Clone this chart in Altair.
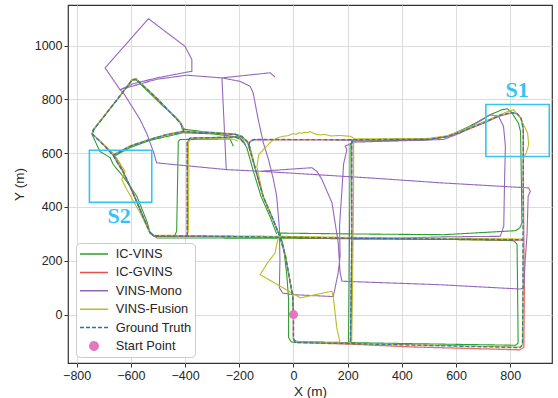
import altair as alt
import pandas as pd

# ---------------- categories / styles ----------------
SERIES = ["IC-VINS", "IC-GVINS", "VINS-Mono", "VINS-Fusion", "Ground Truth", "Start Point"]
COLORS = ["#2ca02c", "#e8504a", "#9467bd", "#bcbd22", "#1f77b4", "#e377c2"]
DASHES = [[1, 0], [1, 0], [1, 0], [1, 0], [4, 2], [1, 0]]
LINE_SYM = "M-2,0L2,0"
DOT_SYM = "M0.6,0A0.6,0.6,0,1,1,-0.6,0A0.6,0.6,0,1,1,0.6,0Z"
SHAPES = [LINE_SYM, LINE_SYM, LINE_SYM, LINE_SYM, LINE_SYM, DOT_SYM]

X_TICKS = [-800, -600, -400, -200, 0, 200, 400, 600, 800]
Y_TICKS = [0, 200, 400, 600, 800, 1000]

# ---------------- Ground truth (m) ----------------
GT_MAIN = [(0, 0), (0, -90), (5, -100), (15, -104), (215, -108), (430, -113), (835, -123), (845, -113),
           (847, 100), (847, 280), (848, 500), (848, 690), (840, 730), (825, 748), (805, 752), (760, 740),
           (700, 712), (620, 680), (567, 662), (500, 652), (228, 650), (-145, 651), (-160, 645), (-166, 630),
           (-140, 540), (-112, 440), (-75, 353), (-50, 290), (-30, 220), (-12, 120), (-3, 70), (0, 0)]
GT_X215 = [(217, 650), (215, 640), (215, 470), (215, 290), (213, 100), (210, -98), (205, -108)]
GT_MID = [(-529, 305), (-515, 293), (-392, 292), (-50, 288), (215, 284), (845, 278)]
GT_LOOP = [(-160, 620), (-170, 643), (-190, 662), (-215, 670), (-300, 676), (-407, 680), (-470, 668),
           (-529, 651), (-600, 627), (-665, 592), (-700, 630), (-743, 672), (-740, 685), (-650, 800),
           (-595, 873), (-580, 875), (-500, 800), (-420, 715), (-405, 692), (-407, 680)]
GT_LEFT = [(-665, 592), (-650, 565), (-628, 530), (-600, 470), (-570, 400), (-545, 340), (-530, 305), (-515, 293)]
GT_RECT = [(-392, 292), (-392, 640), (-382, 656), (-215, 660), (-195, 652), (-178, 632)]

# ---------------- IC-GVINS ----------------
GV_MAIN = [(0, 0), (0, -90), (5, -100), (15, -104), (215, -110), (430, -120), (835, -131), (850, -122),
           (852, 100), (850, 280), (848, 500), (848, 690), (840, 730), (825, 746), (805, 750), (760, 738),
           (700, 711), (620, 679), (567, 661), (500, 651), (228, 649), (-145, 650), (-160, 644), (-166, 629),
           (-140, 539), (-112, 439), (-75, 352), (-50, 289), (-30, 219), (-12, 119), (-3, 69), (0, 0)]
GV_X215 = [(217, 650), (215, 640), (215, 470), (216, 290), (214, 100), (211, -98), (206, -109)]
GV_MID = [(-529, 305), (-515, 292), (-392, 291), (-50, 287), (215, 283), (850, 277)]
GV_LOOP = [(-160, 620), (-170, 643), (-190, 662), (-215, 670), (-300, 676), (-407, 680), (-470, 668),
           (-529, 651), (-600, 627), (-665, 592), (-700, 630), (-743, 672), (-740, 685), (-650, 800),
           (-595, 873), (-580, 875), (-500, 800), (-420, 715), (-405, 692), (-407, 680)]
GV_LEFT = [(-665, 592), (-650, 565), (-628, 530), (-600, 470), (-570, 400), (-545, 340), (-530, 305), (-515, 293)]
GV_RECT = [(-392, 292), (-392, 640), (-382, 656), (-215, 660), (-195, 652), (-178, 632)]

# ---------------- IC-VINS ----------------
V_A = [(0, 0), (0, -92), (12, -101), (203, -104), (430, -108), (819, -114), (829, -106), (827, 100),
       (825, 262), (812, 275), (600, 279), (215, 282), (-50, 284), (-504, 285), (-529, 304), (-541, 347),
       (-578, 440), (-629, 514), (-665, 558), (-677, 584), (-714, 606), (-743, 669), (-735, 690),
       (-650, 800), (-595, 873), (-580, 872), (-480, 774), (-437, 737), (-415, 712), (-411, 690),
       (-300, 676), (-215, 670), (-192, 660), (-172, 643), (-160, 620), (-140, 540), (-112, 440),
       (-75, 353), (-50, 290), (-30, 220), (-12, 120), (-3, 70), (0, 0)]
V_B = [(203, -104), (205, 100), (208, 450), (209, 630), (220, 645), (480, 648), (567, 662), (650, 700),
       (726, 743), (770, 762), (790, 765), (806, 750), (830, 712), (838, 680), (841, 500), (843, 340),
       (835, 322), (820, 312), (554, 297), (200, 300), (-50, 303), (-37, 254), (-24, 142), (-18, 56),
       (-18, -85), (-8, -102), (15, -104)]
V_C = [(-62, 300), (-85, 360), (-120, 440), (-150, 540), (-172, 620), (-185, 645), (-200, 660),
       (-300, 672), (-407, 676), (-529, 648), (-600, 622), (-660, 590), (-640, 560), (-628, 530),
       (-600, 470), (-570, 400), (-545, 340), (-530, 305), (-515, 291), (-440, 290), (-431, 310),
       (-425, 644), (-418, 651), (-234, 653), (-222, 626)]

# ---------------- VINS-Mono ----------------
M_A = [(0, 0), (0, -92), (12, -101), (213, -106), (213, 100), (215, 280), (554, 289), (763, 291),
       (776, 329), (779, 500), (782, 626), (775, 700), (757, 737), (726, 743), (616, 675), (553, 651),
       (220, 641), (191, 626), (197, 613), (185, 560), (178, 450), (170, 330), (172, 216), (165, 156),
       (147, 67), (0, 74), (-40, 80), (-52, 100), (-50, 200), (-52, 320), (-62, 440), (-74, 502),
       (-92, 576), (-111, 638), (-130, 725), (-149, 825), (-160, 849), (-197, 867), (-264, 880),
       (-394, 890), (-504, 875), (-592, 850), (-640, 836), (-695, 917), (-535, 1100), (-400, 997),
       (-375, 948), (-375, 904), (-385, 903), (-504, 880), (-592, 858), (-640, 836), (-628, 825),
       (-566, 725), (-540, 670), (-515, 600), (-505, 564), (-246, 539), (-123, 533), (68, 546),
       (87, 532), (105, 502), (142, 416), (165, 268), (172, 156), (179, 124), (541, 111), (837, 95),
       (850, 100), (855, 200), (862, 300), (866, 440), (874, 458), (868, 471), (541, 490), (283, 508),
       (-123, 533), (-248, 539), (-264, 880), (-86, 899), (-68, 883)]

# ---------------- VINS-Fusion ----------------
F_A = [(0, 0), (0, -92), (12, -101), (215, -107), (430, -112), (835, -121), (845, -111), (847, 100),
       (848, 280), (848, 560), (850, 585), (859, 601), (868, 632), (864, 675), (837, 731), (812, 762),
       (794, 756), (760, 742), (700, 716), (620, 684), (567, 665), (500, 655), (228, 653), (222, 640),
       (222, 470), (220, 290), (218, 100), (215, -98), (200, -106)]
F_B = [(0, 0), (-3, 70), (-12, 120), (-30, 220), (-50, 290), (-75, 353), (-112, 440), (-135, 550),
       (-128, 595), (-105, 620), (-80, 645), (-61, 657), (-37, 663), (-20, 665), (-10, 670), (0, 673),
       (10, 670), (20, 676), (30, 674), (40, 678), (50, 676), (62, 680), (72, 675), (86, 670), (100, 668),
       (115, 670), (140, 664), (170, 666), (209, 663), (228, 653)]
F_C = [(-140, 540), (-160, 620), (-170, 643), (-190, 662), (-215, 672), (-300, 678), (-407, 683),
       (-470, 670), (-529, 653), (-600, 629), (-662, 597), (-700, 633), (-743, 673), (-740, 686),
       (-650, 801), (-595, 875), (-580, 876), (-500, 801), (-420, 716), (-405, 693), (-407, 683)]
F_D = [(-662, 597), (-645, 570), (-634, 551), (-621, 533), (-634, 502), (-615, 465), (-566, 378),
       (-545, 335), (-530, 306), (-515, 295), (-392, 294), (-50, 291), (220, 287), (845, 281)]
F_E = [(-392, 294), (-388, 310), (-386, 540), (-388, 638), (-378, 656), (-221, 652), (-205, 645)]
F_F = [(-55, 285), (-61, 266), (-68, 229), (-92, 198), (-123, 149), (-6, 81), (25, 62), (142, 87),
       (148, 56), (160, -50), (172, -105)]

START_X = [0]
START_Y = [0]

BOX_NAME = ["S1", "S2"]
BOX_X1 = [710, -753]
BOX_X2 = [944, -523]
BOX_Y1 = [588, 417]
BOX_Y2 = [781, 611]
LABEL_X = [825, -643]
LABEL_Y = [836, 365]


def to_rows(series, segments):
    out = []
    for si, seg in enumerate(segments):
        for i, (x, y) in enumerate(seg):
            out.append({"series": series, "seg": f"{series}-{si}", "i": i, "x": x, "y": y})
    return pd.DataFrame(out)


df_v = to_rows("IC-VINS", [V_A, V_B, V_C])
df_gv = to_rows("IC-GVINS", [GV_MAIN, GV_X215, GV_MID, GV_LOOP, GV_LEFT, GV_RECT])
df_m = to_rows("VINS-Mono", [M_A])
df_f = to_rows("VINS-Fusion", [F_A, F_B, F_C, F_D, F_E, F_F])
df_gt = to_rows("Ground Truth", [GT_MAIN, GT_X215, GT_MID, GT_LOOP, GT_LEFT, GT_RECT])
df_start = pd.DataFrame({"series": ["Start Point"], "x": START_X, "y": START_Y})
df_box = pd.DataFrame({"name": BOX_NAME, "x1": BOX_X1, "x2": BOX_X2, "y1": BOX_Y1, "y2": BOX_Y2,
                       "lx": LABEL_X, "ly": LABEL_Y})

xs = alt.Scale(domain=[-832, 954], nice=False, zero=False)
ys = alt.Scale(domain=[-180, 1151], nice=False, zero=False)
X = alt.X("x:Q", scale=xs, axis=alt.Axis(values=X_TICKS, title="X (m)", format="d"))
Y = alt.Y("y:Q", scale=ys, axis=alt.Axis(values=Y_TICKS, title="Y (m)", format="d"))
color = alt.Color("series:N", scale=alt.Scale(domain=SERIES, range=COLORS), title=None)
dash = alt.StrokeDash("series:N", scale=alt.Scale(domain=SERIES, range=DASHES), title=None)
shape = alt.Shape("series:N", scale=alt.Scale(domain=SERIES, range=SHAPES), title=None)


def line_layer(df, width, opacity=1.0):
    return alt.Chart(df).mark_line(strokeWidth=width, opacity=opacity, strokeJoin="round").encode(
        x=X, y=Y, color=color, strokeDash=dash, detail="seg:N", order="i:Q")


l_v = line_layer(df_v, 1.1)
l_gv = line_layer(df_gv, 1.3, 0.85)
l_m = line_layer(df_m, 1.1)
l_f = line_layer(df_f, 1.1)
l_gt = line_layer(df_gt, 1.4, 0.9)

pt = alt.Chart(df_start).mark_point(filled=True, size=225, opacity=1, strokeWidth=0).encode(
    x=X, y=Y, color=color, shape=shape)

boxes = alt.Chart(df_box).mark_rect(fillOpacity=0, stroke="#35c4f2", strokeWidth=1.6).encode(
    x="x1:Q", x2="x2:Q", y="y1:Q", y2="y2:Q")
labels = alt.Chart(df_box).mark_text(font="Liberation Serif", fontWeight="bold", fontSize=22,
                                     color="#35c4f2", baseline="middle", align="center").encode(
    x="lx:Q", y="ly:Q", text="name:N")

chart = alt.layer(l_v, l_gv, l_m, l_f, l_gt, boxes, labels, pt).properties(
    width=484, height=358,
    autosize=alt.AutoSizeParams(type="none"),
    padding={"left": 68, "top": 5, "right": 6, "bottom": 35},
).configure_view(stroke="#333333", strokeWidth=1.2).configure_axis(
    grid=True, gridColor="#dcdcdc", gridWidth=1, domain=False, tickColor="#333333", tickSize=4,
    labelFont="Liberation Sans", labelFontSize=12.5, labelColor="#262626", labelPadding=2,
    titleFont="Liberation Sans", titleFontSize=13.5, titleFontWeight="normal", titleColor="#262626",
).configure_axisY(titlePadding=8).configure_axisX(titlePadding=3).configure_legend(
    orient="none", legendX=8, legendY=238, fillColor="white", strokeColor="#cccccc", cornerRadius=4,
    padding=3, labelFont="Liberation Sans", labelFontSize=12.8, labelColor="#262626",
    symbolSize=196, symbolStrokeWidth=1.5, symbolOffset=7, rowPadding=3.4, labelOffset=13.7,
)

chart.save("out.html", embed_options={"renderer": "svg", "actions": False})
